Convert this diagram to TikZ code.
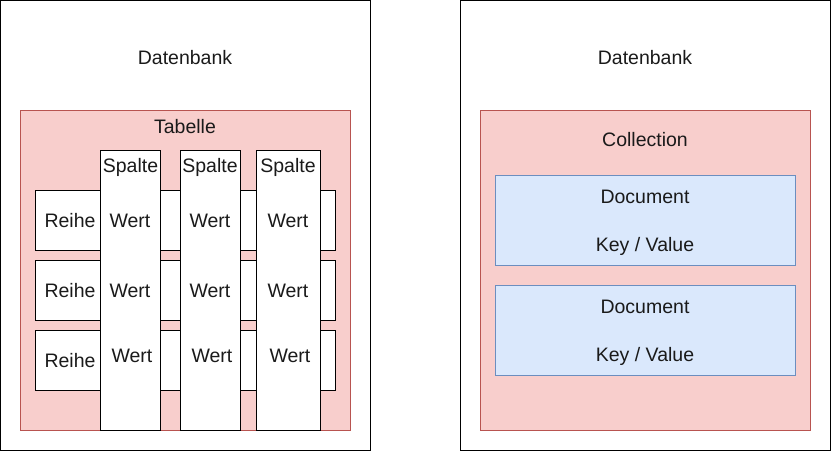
\documentclass[tikz,border=0pt]{standalone}
\usepackage{fontspec}
\setmainfont{Liberation Sans}
\usepackage{xcolor}
\usepackage{tikz}
\definecolor{tabfill}{HTML}{F8CECC}
\definecolor{tabline}{HTML}{B85450}
\definecolor{docfill}{HTML}{DAE8FC}
\definecolor{docline}{HTML}{6C8EBF}
\definecolor{txt}{HTML}{1A1A1A}

\begin{document}
\begin{tikzpicture}[x=1pt, y=-1pt, line width=1pt,
    every node/.style={font=\fontsize{19.5}{22}\selectfont, text=txt, inner sep=0pt, anchor=base}]
    \useasboundingbox (0,0) rectangle (831,451);

    \def\leftdb{(0.5,0.5) rectangle (370,450)}
    \def\rightdb{(460,0.5) rectangle (830,450)}
    \def\tabelle{(20,110) rectangle (350,430)}
    \def\collection{(480,110) rectangle (810,430)}

    \draw \leftdb \rightdb;
    \draw[fill=tabfill, draw=tabline] \tabelle \collection;

    % Reihen
    \draw[fill=white] (35,190) rectangle (335,250);
    \draw[fill=white] (35,260) rectangle (335,320);
    \draw[fill=white] (35,330) rectangle (335,390);

    % Spalten
    \draw[fill=white] (100,150) rectangle (160,430);
    \draw[fill=white] (180,150) rectangle (240,430);
    \draw[fill=white] (256,150) rectangle (320,430);

    % Documents
    \draw[fill=docfill, draw=docline] (495,175) rectangle (795,265);
    \draw[fill=docfill, draw=docline] (495,285) rectangle (795,375);

    \node (db1) at (185,64.5) {Datenbank};
    \node (db2) at (645,64.5) {Datenbank};
    \node (tab) at (185,133) {Tabelle};
    \node (coll) at (645,146.5) {Collection};

    \node (sp1) at (130.5,172) {Spalte};
    \node (sp2) at (210,172) {Spalte};
    \node (sp3) at (288,172) {Spalte};

    \node (r1) at (70,227) {Reihe};
    \node (r2) at (70,297) {Reihe};
    \node (r3) at (70,367) {Reihe};

    \node (w11) at (130,227) {Wert};
    \node (w12) at (210,227) {Wert};
    \node (w13) at (288,227) {Wert};
    \node (w21) at (130,297) {Wert};
    \node (w22) at (210,297) {Wert};
    \node (w23) at (288,297) {Wert};
    \node (w31) at (132,362) {Wert};
    \node (w32) at (212,362) {Wert};
    \node (w33) at (290,362) {Wert};

    \node (doc1) at (645,203.5) {Document};
    \node (kv1) at (645,251.5) {Key / Value};
    \node (doc2) at (645,313.5) {Document};
    \node (kv2) at (645,361.5) {Key / Value};
\end{tikzpicture}
\end{document}
